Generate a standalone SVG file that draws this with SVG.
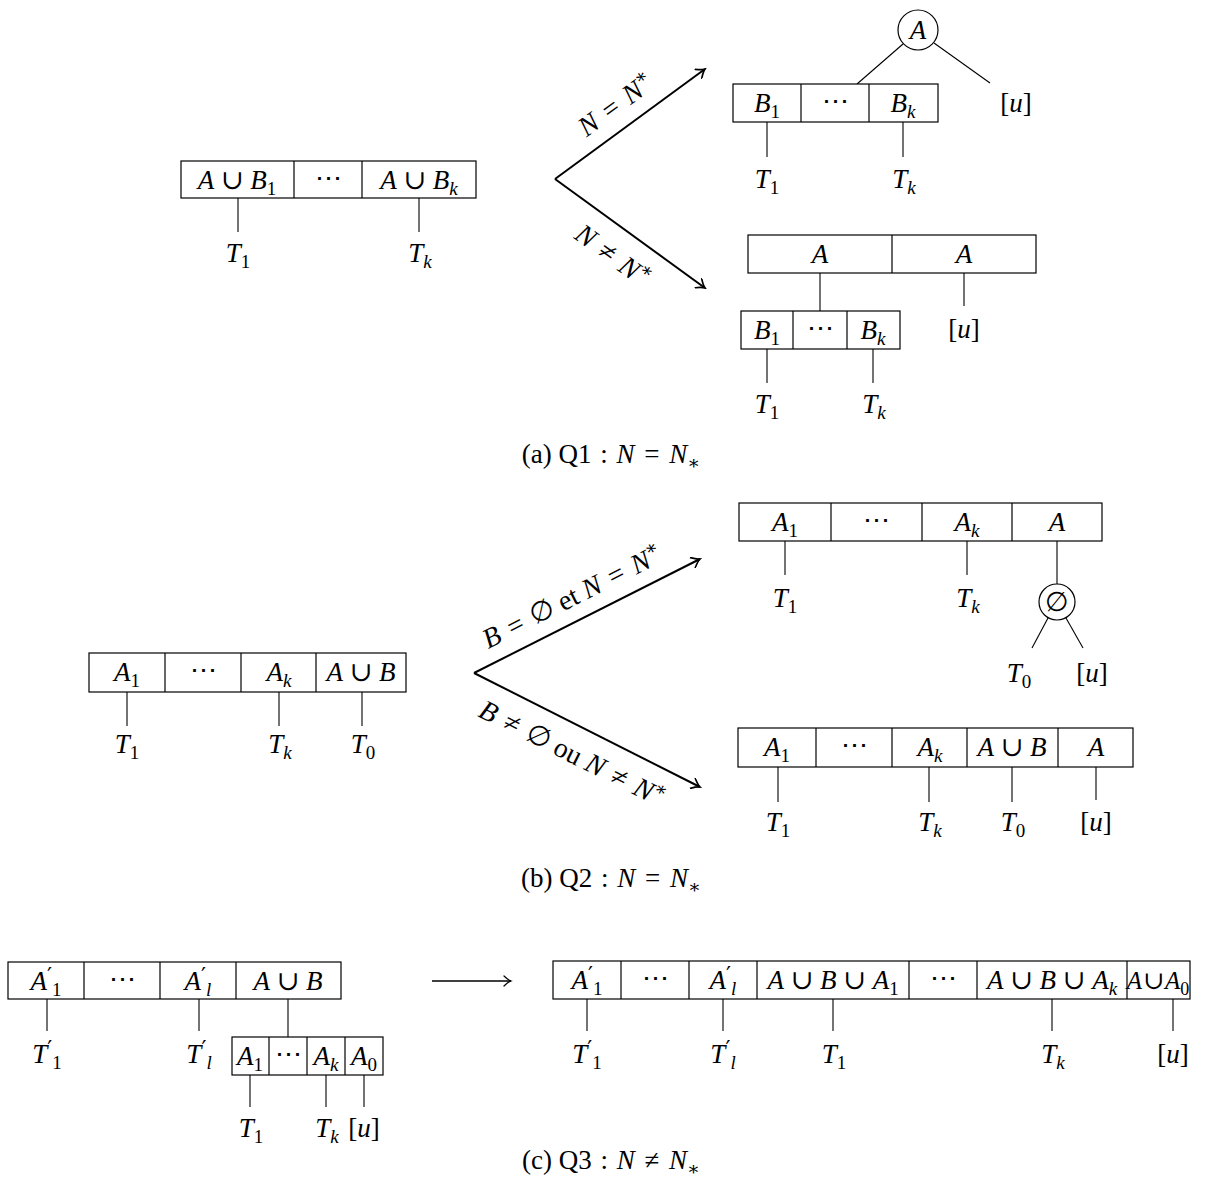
<svg xmlns="http://www.w3.org/2000/svg" width="1226" height="1196" viewBox="0 0 1226 1196">
<style>
text{font-family:"Liberation Serif","DejaVu Serif",serif;font-size:27px;fill:#000;text-anchor:middle}
.i{font-style:italic}
.sb{font-size:19px}
.pr{font-size:22px;font-family:"DejaVu Serif",serif}
.lb{font-size:28px}
.box{fill:#fff;stroke:#000;stroke-width:1.2}
.dv{stroke:#000;stroke-width:1.2}
.e{stroke:#000;stroke-width:1.1;fill:none}
.ar{stroke:#000;stroke-width:2;fill:none;marker-end:url(#ah)}
.circ{fill:#fff;stroke:#000;stroke-width:1.2}
</style>
<defs>
<marker id="ah" viewBox="-10 -6 12 12" refX="0" refY="0" markerWidth="12" markerHeight="12" orient="auto" markerUnits="userSpaceOnUse">
<path d="M-8,-5.5 Q-3,-1 0,0 Q-3,1 -8,5.5" fill="none" stroke="#000" stroke-width="1.7" stroke-linecap="round"/>
</marker>
<marker id="ah2" viewBox="-10 -6 12 12" refX="0" refY="0" markerWidth="12" markerHeight="12" orient="auto" markerUnits="userSpaceOnUse">
<path d="M-7,-5 Q-3,-1 0,0 Q-3,1 -7,5" fill="none" stroke="#000" stroke-width="1.2" stroke-linecap="round"/>
</marker>
</defs>

<g id="connectors">
<line class="e" x1="238" y1="198" x2="238" y2="232"/>
<line class="e" x1="419" y1="198" x2="419" y2="232"/>
<line class="ar" x1="555" y1="179" x2="705" y2="69"/>
<line class="ar" x1="555" y1="179" x2="705" y2="288"/>
<line class="e" x1="903" y1="44" x2="857" y2="84"/>
<line class="e" x1="934" y1="43" x2="990" y2="83"/>
<line class="e" x1="767" y1="122" x2="767" y2="157"/>
<line class="e" x1="903" y1="122" x2="903" y2="157"/>
<line class="e" x1="820" y1="273" x2="820" y2="311"/>
<line class="e" x1="964" y1="273" x2="964" y2="306"/>
<line class="e" x1="767" y1="349" x2="767" y2="383"/>
<line class="e" x1="873" y1="349" x2="873" y2="383"/>
<line class="e" x1="127" y1="692" x2="127" y2="726"/>
<line class="e" x1="279" y1="692" x2="279" y2="726"/>
<line class="e" x1="362" y1="692" x2="362" y2="726"/>
<line class="ar" x1="474" y1="673" x2="700" y2="559"/>
<line class="ar" x1="474" y1="673" x2="700" y2="787"/>
<line class="e" x1="785" y1="541" x2="785" y2="575"/>
<line class="e" x1="967" y1="541" x2="967" y2="575"/>
<line class="e" x1="1057" y1="541" x2="1057" y2="584"/>
<line class="e" x1="1048" y1="618" x2="1032" y2="648"/>
<line class="e" x1="1066" y1="618" x2="1083" y2="648"/>
<line class="e" x1="778" y1="767" x2="778" y2="802"/>
<line class="e" x1="929" y1="767" x2="929" y2="802"/>
<line class="e" x1="1012" y1="767" x2="1012" y2="802"/>
<line class="e" x1="1096" y1="767" x2="1096" y2="800"/>
<line class="e" x1="47" y1="999" x2="47" y2="1031"/>
<line class="e" x1="199" y1="999" x2="199" y2="1031"/>
<line class="e" x1="288" y1="999" x2="288" y2="1037"/>
<line class="e" x1="250" y1="1075" x2="250" y2="1107"/>
<line class="e" x1="326" y1="1075" x2="326" y2="1107"/>
<line class="e" x1="364" y1="1075" x2="364" y2="1107"/>
<line x1="432" y1="981" x2="511" y2="981" stroke="#000" stroke-width="1.3" marker-end="url(#ah2)"/>
<line class="e" x1="587" y1="999" x2="587" y2="1031"/>
<line class="e" x1="723" y1="999" x2="723" y2="1031"/>
<line class="e" x1="833" y1="999" x2="833" y2="1031"/>
<line class="e" x1="1052" y1="999" x2="1052" y2="1031"/>
<line class="e" x1="1173" y1="999" x2="1173" y2="1031"/>
</g>

<g id="label-a-up" transform="translate(555,179) rotate(-36.1)">
<text class="lb" x="93" y="-15"><tspan class="i">N</tspan> <tspan dx="3">=</tspan> <tspan class="i" dx="3">N</tspan><tspan class="sb" dy="-11">∗</tspan></text>
</g>
<g id="label-a-down" transform="translate(555,179) rotate(36.1)">
<text class="lb" x="92" y="37"><tspan class="i">N</tspan> <tspan dx="3">≠</tspan> <tspan class="i" dx="3">N</tspan><tspan class="sb" dy="-11">∗</tspan></text>
</g>
<g id="label-b-up" transform="translate(474,673) rotate(-26.66)">
<text class="lb" x="122" y="-15"><tspan class="i">B</tspan> <tspan dx="3">=</tspan> <tspan dx="3">∅</tspan> et <tspan class="i">N</tspan> <tspan dx="3">=</tspan> <tspan class="i" dx="3">N</tspan><tspan class="sb" dy="-11">∗</tspan></text>
</g>
<g id="label-b-down" transform="translate(474,673) rotate(26.66)">
<text class="lb" x="124" y="37"><tspan class="i">B</tspan> <tspan dx="3">≠</tspan> <tspan dx="3">∅</tspan> ou <tspan class="i">N</tspan> <tspan dx="3">≠</tspan> <tspan class="i" dx="3">N</tspan><tspan class="sb" dy="-11">∗</tspan></text>
</g>

<g id="a-left">
<rect class="box" x="181" y="161" width="295" height="37"/>
<line class="dv" x1="294" y1="161" x2="294" y2="198"/>
<line class="dv" x1="362" y1="161" x2="362" y2="198"/>
<text x="237" y="189"><tspan class="i">A</tspan> ∪ <tspan class="i">B</tspan><tspan class="sb" dy="6">1</tspan></text>
<text x="328" y="187">⋯</text>
<text x="419" y="189"><tspan class="i">A</tspan> ∪ <tspan class="i">B</tspan><tspan class="sb i" dy="6">k</tspan></text>
</g>
<g id="a-left-T1"><text x="238" y="262"><tspan class="i">T</tspan><tspan class="sb" dy="6">1</tspan></text></g>
<g id="a-left-Tk"><text x="420" y="262"><tspan class="i">T</tspan><tspan class="sb i" dy="6">k</tspan></text></g>

<g id="a-top-circle">
<circle class="circ" cx="918" cy="30" r="20"/>
<text x="918" y="39" class="i">A</text>
</g>
<g id="a-top-box">
<rect class="box" x="733" y="84" width="205" height="38"/>
<line class="dv" x1="801" y1="84" x2="801" y2="122"/>
<line class="dv" x1="869" y1="84" x2="869" y2="122"/>
<text x="767" y="112"><tspan class="i">B</tspan><tspan class="sb" dy="6">1</tspan></text>
<text x="835" y="110">⋯</text>
<text x="903" y="112"><tspan class="i">B</tspan><tspan class="sb i" dy="6">k</tspan></text>
</g>
<g id="a-top-u"><text x="1016" y="112">[<tspan class="i">u</tspan>]</text></g>
<g id="a-top-T1"><text x="767" y="188"><tspan class="i">T</tspan><tspan class="sb" dy="6">1</tspan></text></g>
<g id="a-top-Tk"><text x="904" y="188"><tspan class="i">T</tspan><tspan class="sb i" dy="6">k</tspan></text></g>

<g id="a-bot-box1">
<rect class="box" x="748" y="235" width="288" height="38"/>
<line class="dv" x1="892" y1="235" x2="892" y2="273"/>
<text x="820" y="263" class="i">A</text>
<text x="964" y="263" class="i">A</text>
</g>
<g id="a-bot-u"><text x="964" y="338">[<tspan class="i">u</tspan>]</text></g>
<g id="a-bot-box2">
<rect class="box" x="741" y="311" width="159" height="38"/>
<line class="dv" x1="793" y1="311" x2="793" y2="349"/>
<line class="dv" x1="847" y1="311" x2="847" y2="349"/>
<text x="767" y="339"><tspan class="i">B</tspan><tspan class="sb" dy="6">1</tspan></text>
<text x="820" y="337">⋯</text>
<text x="873" y="339"><tspan class="i">B</tspan><tspan class="sb i" dy="6">k</tspan></text>
</g>
<g id="a-bot-T1"><text x="767" y="413"><tspan class="i">T</tspan><tspan class="sb" dy="6">1</tspan></text></g>
<g id="a-bot-Tk"><text x="874" y="413"><tspan class="i">T</tspan><tspan class="sb i" dy="6">k</tspan></text></g>

<g id="caption-a"><text x="611" y="463">(a) Q1 <tspan dx="2">:</tspan> <tspan class="i" dx="2">N</tspan> <tspan dx="3">=</tspan> <tspan class="i" dx="3">N</tspan><tspan class="sb" dy="6">∗</tspan></text></g>

<g id="b-left">
<rect class="box" x="89" y="653" width="317" height="39"/>
<line class="dv" x1="165" y1="653" x2="165" y2="692"/>
<line class="dv" x1="241" y1="653" x2="241" y2="692"/>
<line class="dv" x1="316" y1="653" x2="316" y2="692"/>
<text x="127" y="681"><tspan class="i">A</tspan><tspan class="sb" dy="6">1</tspan></text>
<text x="203" y="679">⋯</text>
<text x="279" y="681"><tspan class="i">A</tspan><tspan class="sb i" dy="6">k</tspan></text>
<text x="361" y="681"><tspan class="i">A</tspan> ∪ <tspan class="i">B</tspan></text>
</g>
<g id="b-left-T1"><text x="127" y="753"><tspan class="i">T</tspan><tspan class="sb" dy="6">1</tspan></text></g>
<g id="b-left-Tk"><text x="280" y="753"><tspan class="i">T</tspan><tspan class="sb i" dy="6">k</tspan></text></g>
<g id="b-left-T0"><text x="363" y="753"><tspan class="i">T</tspan><tspan class="sb" dy="6">0</tspan></text></g>

<g id="b-top-box">
<rect class="box" x="739" y="503" width="363" height="38"/>
<line class="dv" x1="831" y1="503" x2="831" y2="541"/>
<line class="dv" x1="922" y1="503" x2="922" y2="541"/>
<line class="dv" x1="1012" y1="503" x2="1012" y2="541"/>
<text x="785" y="531"><tspan class="i">A</tspan><tspan class="sb" dy="6">1</tspan></text>
<text x="876" y="529">⋯</text>
<text x="967" y="531"><tspan class="i">A</tspan><tspan class="sb i" dy="6">k</tspan></text>
<text x="1057" y="531" class="i">A</text>
</g>
<g id="b-top-T1"><text x="785" y="607"><tspan class="i">T</tspan><tspan class="sb" dy="6">1</tspan></text></g>
<g id="b-top-Tk"><text x="968" y="607"><tspan class="i">T</tspan><tspan class="sb i" dy="6">k</tspan></text></g>
<g id="b-top-circle">
<circle class="circ" cx="1057" cy="602" r="18"/>
<text x="1057" y="611">∅</text>
</g>
<g id="b-top-T0"><text x="1019" y="682"><tspan class="i">T</tspan><tspan class="sb" dy="6">0</tspan></text></g>
<g id="b-top-u"><text x="1092" y="682">[<tspan class="i">u</tspan>]</text></g>

<g id="b-bot-box">
<rect class="box" x="738" y="728" width="395" height="39"/>
<line class="dv" x1="816" y1="728" x2="816" y2="767"/>
<line class="dv" x1="892" y1="728" x2="892" y2="767"/>
<line class="dv" x1="967" y1="728" x2="967" y2="767"/>
<line class="dv" x1="1058" y1="728" x2="1058" y2="767"/>
<text x="777" y="756"><tspan class="i">A</tspan><tspan class="sb" dy="6">1</tspan></text>
<text x="854" y="754">⋯</text>
<text x="930" y="756"><tspan class="i">A</tspan><tspan class="sb i" dy="6">k</tspan></text>
<text x="1012" y="756"><tspan class="i">A</tspan> ∪ <tspan class="i">B</tspan></text>
<text x="1096" y="756" class="i">A</text>
</g>
<g id="b-bot-T1"><text x="778" y="831"><tspan class="i">T</tspan><tspan class="sb" dy="6">1</tspan></text></g>
<g id="b-bot-Tk"><text x="930" y="831"><tspan class="i">T</tspan><tspan class="sb i" dy="6">k</tspan></text></g>
<g id="b-bot-T0"><text x="1013" y="831"><tspan class="i">T</tspan><tspan class="sb" dy="6">0</tspan></text></g>
<g id="b-bot-u"><text x="1096" y="831">[<tspan class="i">u</tspan>]</text></g>

<g id="caption-b"><text x="611" y="887">(b) Q2 <tspan dx="2">:</tspan> <tspan class="i" dx="2">N</tspan> <tspan dx="3">=</tspan> <tspan class="i" dx="3">N</tspan><tspan class="sb" dy="6">∗</tspan></text></g>

<g id="c-left">
<rect class="box" x="8" y="962" width="333" height="37"/>
<line class="dv" x1="84" y1="962" x2="84" y2="999"/>
<line class="dv" x1="160" y1="962" x2="160" y2="999"/>
<line class="dv" x1="236" y1="962" x2="236" y2="999"/>
<text x="46" y="990"><tspan class="i">A</tspan><tspan class="pr" dy="-7">′</tspan><tspan class="sb" dy="13">1</tspan></text>
<text x="122" y="988">⋯</text>
<text x="198" y="990"><tspan class="i">A</tspan><tspan class="pr" dy="-7">′</tspan><tspan class="sb i" dy="13">l</tspan></text>
<text x="288" y="990"><tspan class="i">A</tspan> ∪ <tspan class="i">B</tspan></text>
</g>
<g id="c-left-T1p"><text x="47" y="1063"><tspan class="i">T</tspan><tspan class="pr" dy="-7">′</tspan><tspan class="sb" dy="13">1</tspan></text></g>
<g id="c-left-Tlp"><text x="199" y="1063"><tspan class="i">T</tspan><tspan class="pr" dy="-7">′</tspan><tspan class="sb i" dy="13">l</tspan></text></g>
<g id="c-small-box">
<rect class="box" x="232" y="1037" width="151" height="38"/>
<line class="dv" x1="269" y1="1037" x2="269" y2="1075"/>
<line class="dv" x1="307" y1="1037" x2="307" y2="1075"/>
<line class="dv" x1="345" y1="1037" x2="345" y2="1075"/>
<text x="250" y="1065"><tspan class="i">A</tspan><tspan class="sb" dy="6">1</tspan></text>
<text x="288" y="1063">⋯</text>
<text x="326" y="1065"><tspan class="i">A</tspan><tspan class="sb i" dy="6">k</tspan></text>
<text x="364" y="1065"><tspan class="i">A</tspan><tspan class="sb" dy="6">0</tspan></text>
</g>
<g id="c-small-T1"><text x="251" y="1137"><tspan class="i">T</tspan><tspan class="sb" dy="6">1</tspan></text></g>
<g id="c-small-Tk"><text x="327" y="1137"><tspan class="i">T</tspan><tspan class="sb i" dy="6">k</tspan></text></g>
<g id="c-small-u"><text x="364" y="1137">[<tspan class="i">u</tspan>]</text></g>

<g id="c-right">
<rect class="box" x="553" y="961" width="637" height="38"/>
<line class="dv" x1="621" y1="961" x2="621" y2="999"/>
<line class="dv" x1="689" y1="961" x2="689" y2="999"/>
<line class="dv" x1="757" y1="961" x2="757" y2="999"/>
<line class="dv" x1="909" y1="961" x2="909" y2="999"/>
<line class="dv" x1="977" y1="961" x2="977" y2="999"/>
<line class="dv" x1="1127" y1="961" x2="1127" y2="999"/>
<text x="587" y="989"><tspan class="i">A</tspan><tspan class="pr" dy="-7">′</tspan><tspan class="sb" dy="13">1</tspan></text>
<text x="655" y="987">⋯</text>
<text x="723" y="989"><tspan class="i">A</tspan><tspan class="pr" dy="-7">′</tspan><tspan class="sb i" dy="13">l</tspan></text>
<text x="833" y="989"><tspan class="i">A</tspan> ∪ <tspan class="i">B</tspan> ∪ <tspan class="i">A</tspan><tspan class="sb" dy="6">1</tspan></text>
<text x="943" y="987">⋯</text>
<text x="1052" y="989"><tspan class="i">A</tspan> ∪ <tspan class="i">B</tspan> ∪ <tspan class="i">A</tspan><tspan class="sb i" dy="6">k</tspan></text>
<text x="1158" y="989" style="font-size:25px"><tspan class="i">A</tspan><tspan dx="1">∪</tspan><tspan class="i" dx="1">A</tspan><tspan style="font-size:18px" dy="6">0</tspan></text>
</g>
<g id="c-right-T1p"><text x="587" y="1063"><tspan class="i">T</tspan><tspan class="pr" dy="-7">′</tspan><tspan class="sb" dy="13">1</tspan></text></g>
<g id="c-right-Tlp"><text x="723" y="1063"><tspan class="i">T</tspan><tspan class="pr" dy="-7">′</tspan><tspan class="sb i" dy="13">l</tspan></text></g>
<g id="c-right-T1"><text x="834" y="1063"><tspan class="i">T</tspan><tspan class="sb" dy="6">1</tspan></text></g>
<g id="c-right-Tk"><text x="1053" y="1063"><tspan class="i">T</tspan><tspan class="sb i" dy="6">k</tspan></text></g>
<g id="c-right-u"><text x="1173" y="1063">[<tspan class="i">u</tspan>]</text></g>

<g id="caption-c"><text x="611" y="1169">(c) Q3 <tspan dx="2">:</tspan> <tspan class="i" dx="2">N</tspan> <tspan dx="3">≠</tspan> <tspan class="i" dx="3">N</tspan><tspan class="sb" dy="6">∗</tspan></text></g>
</svg>
